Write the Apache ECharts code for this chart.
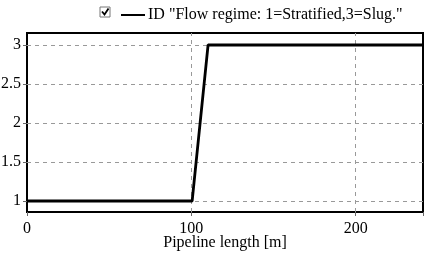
<!DOCTYPE html>
<html><head><meta charset="utf-8">
<script src="https://cdn.jsdelivr.net/npm/echarts@6/dist/echarts.min.js"></script>
<style>html,body{margin:0;padding:0;background:#fff}#c{width:425px;height:253px}</style>
</head><body><div id="c"></div>
<script>
const seriesName = 'ID "Flow regime: 1=Stratified,3=Slug."';
const xValues = [0, 100.5, 110.2, 241];
const yValues = [1, 1, 3, 3];
const yTicks = [1, 1.5, 2, 2.5, 3];
const xTicks = [0, 100, 200];
const xLabel = 'Pipeline length [m]';

const font = 'Liberation Serif';
const chart = echarts.init(document.getElementById('c'));
chart.setOption({
  animation: false,
  backgroundColor: '#fff',
  grid: {left: 27, right: 2, top: 33, bottom: 41, show: true, borderColor: '#000', borderWidth: 2,
    backgroundColor: 'transparent', outerBoundsMode: 'none', containLabel: false},
  legend: {
    left: 116, top: 2, icon: 'rect', itemWidth: 24, itemHeight: 2, itemGap: 4,
    textStyle: {fontFamily: font, fontSize: 16, color: '#000', padding: [0,0,0,-2]},
    data: [{name: seriesName, itemStyle: {color: '#000'}}]
  },
  graphic: [
    {type: 'rect', shape: {x: 100, y: 7, width: 10, height: 10}, style: {fill: '#fff', stroke: '#777', lineWidth: 1}},
    {type: 'polyline', shape: {points: [[102, 11.5], [104.5, 14.5], [108.5, 8.5]]}, style: {fill: null, stroke: '#000', lineWidth: 1.8}}
  ],
  xAxis: {
    type: 'value', min: 0, max: 241, interval: 100,
    name: xLabel, nameLocation: 'middle', nameGap: 23, nameMoveOverlap: false,
    nameTextStyle: {fontFamily: font, fontSize: 16, color: '#000'},
    axisLine: {show: false},
    axisTick: {show: true, length: 4, inside: false, lineStyle: {color: '#666'}},
    axisLabel: {fontFamily: font, fontSize: 16, color: '#000', margin: 9,
      customValues: xTicks},
    splitLine: {show: false}
  },
  yAxis: {
    type: 'value', min: 0.859, max: 3.154,
    axisLine: {show: false},
    axisTick: {show: true, length: 4, customValues: yTicks, lineStyle: {color: '#666'}},
    axisLabel: {fontFamily: font, fontSize: 16, color: '#000', margin: 6, customValues: yTicks},
    splitLine: {show: false}
  },
  series: [{
    name: seriesName, type: 'line', symbol: 'none',
    data: xValues.map((x, i) => [x, yValues[i]]),
    lineStyle: {color: '#000', width: 2.8},
    itemStyle: {color: '#000'},
    z: 5,
    markLine: {
      silent: true, symbol: 'none', label: {show: false},
      lineStyle: {color: '#999', type: [4, 4], width: 1},
      data: yTicks.map(v => ({yAxis: v})).concat(xTicks.filter(v => v > 0).map(v => ({xAxis: v})))
    }
  }]
});
</script></body></html>
